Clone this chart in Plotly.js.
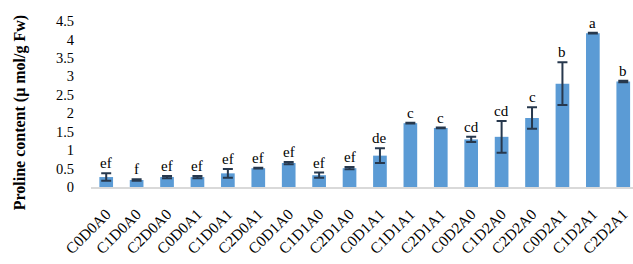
<!DOCTYPE html>
<html><head><meta charset="utf-8">
<script src="https://cdn.plot.ly/plotly-3.0.1.min.js"></script>
<style>html,body{margin:0;padding:0;background:#fff}#chart{width:633px;height:264px}</style>
</head><body><div id="chart"></div>
<script>
const categories = ["C0D0A0","C1D0A0","C2D0A0","C0D0A1","C1D0A1","C2D0A1","C0D1A0","C1D1A0","C2D1A0","C0D1A1","C1D1A1","C2D1A1","C0D2A0","C1D2A0","C2D2A0","C0D2A1","C1D2A1","C2D2A1"];
const proline = [0.27,0.19,0.27,0.27,0.37,0.51,0.65,0.32,0.51,0.85,1.73,1.60,1.29,1.36,1.87,2.80,4.17,2.86];
const errors  = [0.10,0.02,0.03,0.03,0.12,0.01,0.03,0.07,0.03,0.20,0.01,0.01,0.07,0.43,0.29,0.58,0.01,0.02];
const letters = ["ef","f","ef","ef","ef","ef","ef","ef","ef","de","c","c","cd","cd","c","b","a","b"];
const yTicks = [0,0.5,1,1.5,2,2.5,3,3.5,4,4.5];

const serif = "Liberation Serif, Times New Roman, serif";
const annotations = categories.map((c,i)=>({
  x: c, y: proline[i]+errors[i], xref:'x', yref:'y', text: letters[i],
  showarrow:false, yanchor:'bottom', yshift:0,
  font:{family:serif, size:15, color:'#000'}
}));
annotations.push({
  xref:'paper', yref:'paper', x:-0.131, y:0.45, textangle:-90,
  text:'<b>Proline content (μ mol/g Fw)</b>', showarrow:false,
  xanchor:'center', yanchor:'middle',
  font:{family:serif, size:16, color:'#000'}
});

const trace = {
  type:'bar', x:categories, y:proline,
  marker:{color:'#5b9bd5'},
  width:0.45,
  error_y:{type:'data', array:errors, visible:true, color:'#27384d', thickness:2, width:5}
};
const layout = {
  width:633, height:264,
  margin:{l:91, r:0, t:21, b:77},
  paper_bgcolor:'#fff', plot_bgcolor:'#fff',
  showlegend:false,
  xaxis:{type:'category', range:[-0.5,17.32], tickangle:-45, showgrid:false,
    showline:true, linecolor:'#d9d9d9', linewidth:2, ticks:'', ticklabelstandoff:10,
    tickfont:{family:serif, size:15.5, color:'#000'}},
  yaxis:{range:[0,4.5], tickvals:yTicks, ticktext:yTicks.map(String), showgrid:false,
    zeroline:false, showline:false, ticks:'', ticklabelstandoff:16,
    tickfont:{family:serif, size:14.5, color:'#000'}},
  annotations: annotations
};
Plotly.newPlot('chart',[trace],layout,{displayModeBar:false,staticPlot:true});
</script></body></html>
